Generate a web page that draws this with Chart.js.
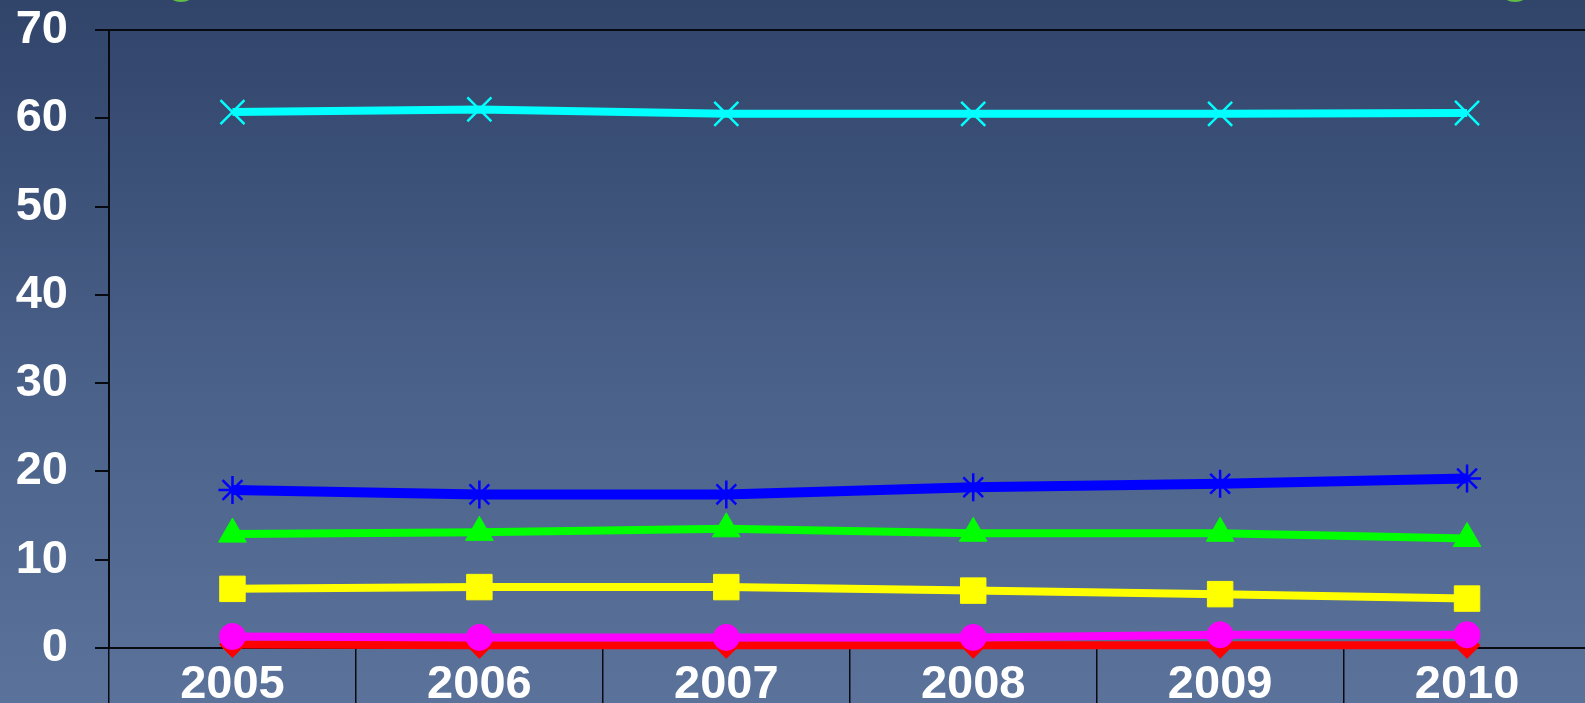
<!DOCTYPE html>
<html>
<head>
<meta charset="utf-8">
<script src="https://cdn.jsdelivr.net/npm/chart.js@4.4.1/dist/chart.umd.min.js"></script>
<style>
  html, body { margin: 0; padding: 0; overflow: hidden; }
  body {
    width: 1585px; height: 703px;
    background: linear-gradient(to bottom, #31446a 0%, #4a6189 55%, #5b729b 100%);
  }
  #wrap { position: absolute; left: 0; top: 0; width: 1610px; height: 703px; }
</style>
</head>
<body>
<div id="wrap"><canvas id="chart"></canvas></div>
<script>
// Years on the category axis
const years = ['2005', '2006', '2007', '2008', '2009', '2010'];

// Series values per year
const cyanSeries    = [60.7, 61.0, 60.5, 60.5, 60.5, 60.6];
const blueSeries    = [17.9, 17.4, 17.4, 18.2, 18.6, 19.2];
const greenSeries   = [12.9, 13.1, 13.5, 13.0, 13.0, 12.4];
const yellowSeries  = [6.7, 6.9, 6.9, 6.5, 6.1, 5.6];
const magentaSeries = [1.3, 1.2, 1.2, 1.2, 1.5, 1.5];
const redSeries     = [0.4, 0.3, 0.3, 0.3, 0.3, 0.3];

// Value axis ticks
const yTicks = [0, 10, 20, 30, 40, 50, 60, 70];

const AXIS = '#080a12';
const FONT = '"Liberation Sans", Arial, sans-serif';

function series(data, color, style, radius, lineW, markerW) {
  return {
    data: data,
    clip: false,
    borderColor: color,
    backgroundColor: color,
    borderWidth: lineW,
    pointStyle: style,
    pointRadius: radius,
    pointHoverRadius: radius,
    pointBorderWidth: markerW,
    pointBorderColor: color,
    pointBackgroundColor: color,
    tension: 0,
    fill: false
  };
}

// Small green shapes peeking in at the top edge
const topShapes = {
  id: 'topShapes',
  beforeDraw(chart) {
    const ctx = chart.ctx;
    ctx.save();
    ctx.fillStyle = '#5fbf45';
    [181, 1515].forEach(cx => {
      ctx.beginPath();
      ctx.ellipse(cx, -5, 12, 7, 0, 0, Math.PI * 2);
      ctx.fill();
    });
    ctx.restore();
  }
};

new Chart(document.getElementById('chart'), {
  type: 'line',
  data: {
    labels: years,
    datasets: [
      series(cyanSeries,    '#00ffff', 'crossRot', 17, 8, 2.5),
      series(blueSeries,    '#0000ff', 'star',     14, 10, 2.5),
      series(greenSeries,   '#00ff00', 'triangle', 16, 8, 1),
      series(yellowSeries,  '#ffff00', 'rect',     18, 8, 1),
      series(magentaSeries, '#ff00ff', 'circle',   13, 8, 1),
      series(redSeries,     '#ff0000', 'rectRot',  13, 8, 1)
    ]
  },
  options: {
    responsive: true,
    maintainAspectRatio: false,
    animation: false,
    events: [],
    layout: { padding: { top: 30, left: 0, right: 11, bottom: 0 } },
    plugins: {
      legend: { display: false },
      tooltip: { enabled: false },
      title: { display: false }
    },
    scales: {
      x: {
        type: 'category',
        offset: true,
        border: { display: true, color: AXIS, width: 2 },
        grid: {
          offset: true,
          drawOnChartArea: false,
          drawTicks: true,
          tickLength: 55,
          color: AXIS,
          tickColor: AXIS,
          lineWidth: 1.5
        },
        ticks: {
          color: '#ffffff',
          padding: -46,
          maxRotation: 0,
          font: { family: FONT, size: 47, weight: 'bold' }
        },
        afterFit(scale) {
          scale.height = 55;
          scale.paddingLeft = 0;
          scale.paddingRight = 0;
        }
      },
      y: {
        min: 0,
        max: 70,
        afterBuildTicks(scale) { scale.ticks = yTicks.map(v => ({ value: v })); },
        border: { display: true, color: AXIS, width: 2 },
        grid: {
          drawOnChartArea: true,
          drawTicks: true,
          tickLength: 14,
          tickColor: AXIS,
          lineWidth: 2,
          color: ctx => (ctx.tick && ctx.tick.value === 70) ? AXIS : 'rgba(0,0,0,0)'
        },
        ticks: {
          color: '#ffffff',
          padding: 27,
          font: { family: FONT, size: 47, weight: 'bold' }
        },
        afterFit(scale) {
          scale.width = 109;
          scale.paddingTop = 0;
          scale.paddingBottom = 0;
        }
      }
    }
  },
  plugins: [topShapes]
});
</script>
</body>
</html>
